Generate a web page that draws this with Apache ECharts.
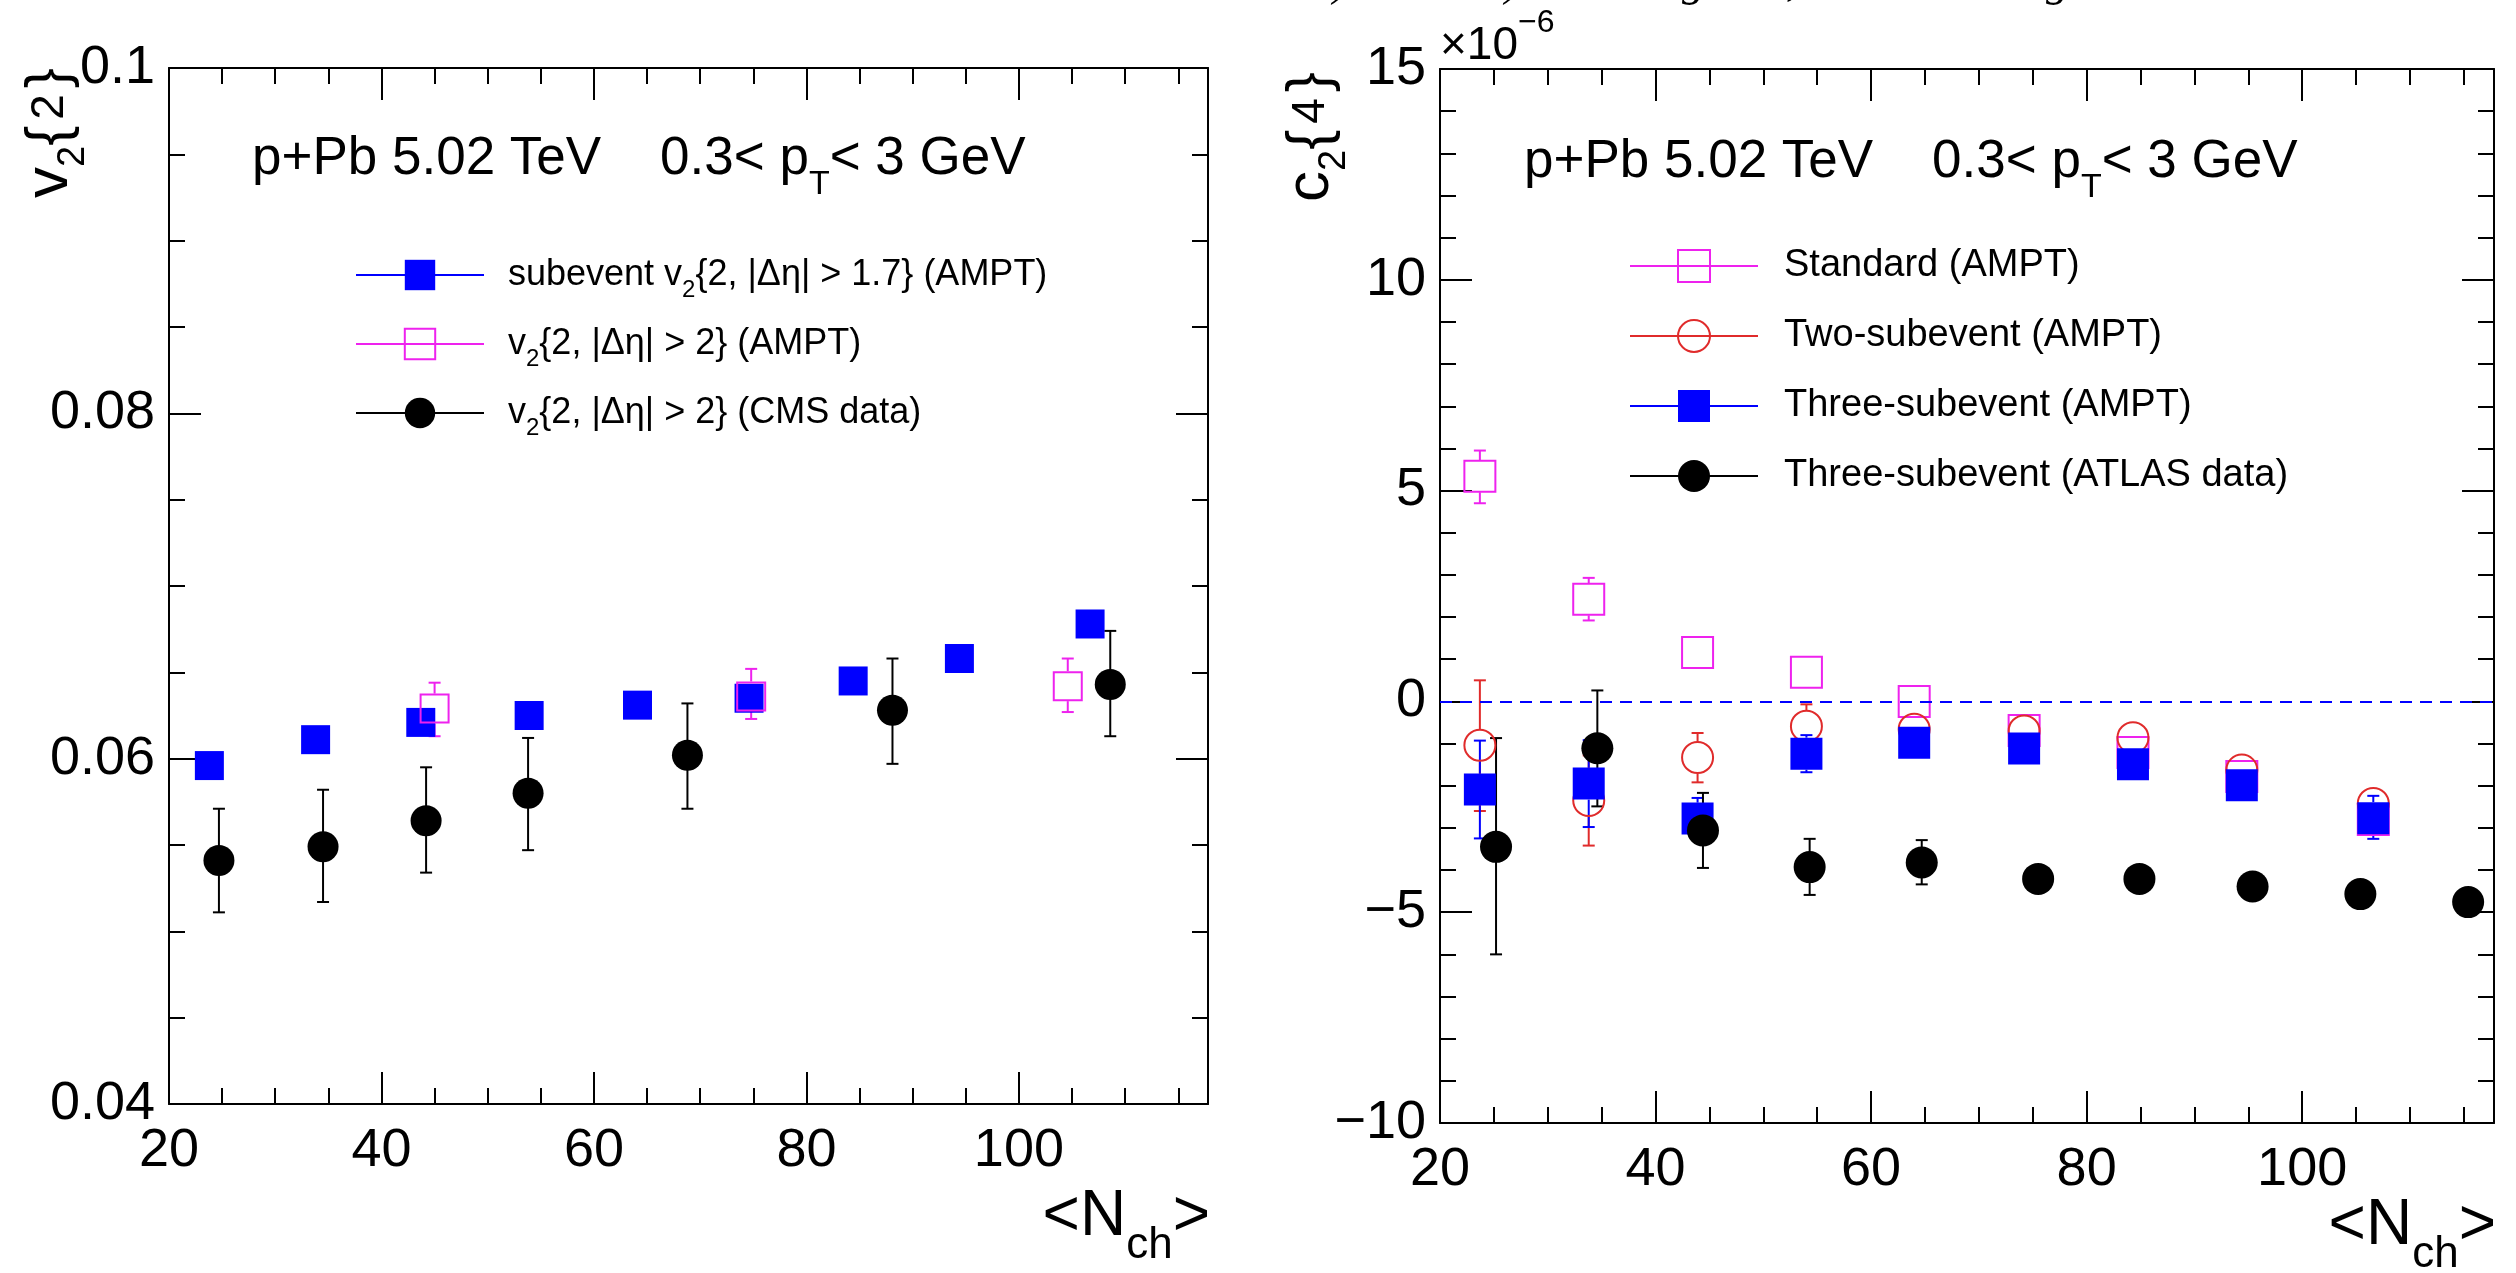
<!DOCTYPE html>
<html><head><meta charset="utf-8">
<script src="https://cdn.jsdelivr.net/npm/echarts@6/dist/echarts.min.js"></script>
<style>html,body{margin:0;padding:0;background:#fff}#c{width:2516px;height:1273px}</style>
</head><body><div id="c"></div>
<script>
// ---------- Left panel: v2{2} vs <Nch> ----------
const leftSubX  = [23.8, 33.8, 43.7, 53.9, 64.1, 74.6, 84.4, 94.4, 106.7];
const leftSubY  = [0.0596, 0.0611, 0.0621, 0.0625, 0.0631, 0.0635, 0.0645, 0.0658, 0.0678];
const leftAmptX  = [45.0, 74.8, 104.6];
const leftAmptY  = [0.0629, 0.0636, 0.0642];
const leftAmptLo = [0.0613, 0.0623, 0.0627];
const leftAmptHi = [0.0644, 0.0652, 0.0658];
const leftCmsX  = [24.7, 34.5, 44.2, 53.8, 68.8, 88.1, 108.6];
const leftCmsY  = [0.0541, 0.0549, 0.0564, 0.0580, 0.0602, 0.0628, 0.0643];
const leftCmsLo = [0.0511, 0.0517, 0.0534, 0.0547, 0.0571, 0.0597, 0.0613];
const leftCmsHi = [0.0571, 0.0582, 0.0595, 0.0612, 0.0632, 0.0658, 0.0674];

// ---------- Right panel: c2{4} (x10^-6) vs <Nch> ----------
const amptX   = [23.7, 33.8, 43.9, 54.0, 64.0, 74.2, 84.3, 94.4, 106.6];
const stdY    = [5.34, 2.42, 1.16, 0.69, 0.00, -0.69, -1.21, -1.78, -2.80];
const stdLo   = [4.70, 1.92, 0.96, 0.49, -0.20, -0.89, -1.41, -1.98, -3.00];
const stdHi   = [5.95, 2.93, 1.36, 0.89, 0.20, -0.49, -1.01, -1.58, -2.60];
const twoY    = [-1.04, -2.35, -1.33, -0.59, -0.66, -0.70, -0.86, -1.63, -2.42];
const twoLo   = [-2.60, -3.42, -1.92, -1.11, -0.86, -0.90, -1.06, -1.83, -2.62];
const twoHi   = [0.50, -1.28, -0.75, -0.07, -0.46, -0.50, -0.66, -1.43, -2.22];
const threeY  = [-2.09, -1.95, -2.78, -1.24, -0.98, -1.12, -1.49, -1.99, -2.77];
const threeLo = [-3.25, -2.98, -3.27, -1.68, -1.20, -1.34, -1.71, -2.21, -3.26];
const threeHi = [-0.93, -0.92, -2.29, -0.80, -0.76, -0.90, -1.27, -1.77, -2.24];
const atlasX  = [25.2, 34.6, 44.4, 54.3, 64.7, 75.5, 84.9, 95.4, 105.4, 115.4];
const atlasY  = [-3.45, -1.11, -3.06, -3.93, -3.82, -4.21, -4.21, -4.39, -4.57, -4.76];
const atlasLo = [-6.00, -2.49, -3.95, -4.59, -4.34, -4.41, -4.41, -4.59, -4.77, -4.96];
const atlasHi = [-0.87, 0.26, -2.17, -3.26, -3.29, -4.01, -4.01, -4.19, -4.37, -4.56];

// axis tick values
const xMin = 20, xMax = 117.8, xMajor = 20, xMinor = 5;
const leftYMin = 0.04, leftYMax = 0.1, leftYMajor = 0.02;
const rightYMin = -10, rightYMax = 15, rightYMajor = 5;

const F = "'Liberation Sans', Arial, Helvetica, sans-serif";
const BLUE = '#0000ff', MAG = '#ee22ee', RED = '#e02b2b', BLACK = '#000000';
const NONE = 'rgba(0,0,0,0)';

const names = {
  lSub: 'subevent v2{2, |Δη| > 1.7} (AMPT)',
  lAmpt: 'v2{2, |Δη| > 2} (AMPT)',
  lCms: 'v2{2, |Δη| > 2} (CMS data)',
  rStd: 'Standard (AMPT)',
  rTwo: 'Two-subevent (AMPT)',
  rThree: 'Three-subevent (AMPT)',
  rAtlas: 'Three-subevent (ATLAS data)'
};

const tickLine = {color: '#000', width: 2};
function xAxesFor(g) {
  const base = {type: 'value', gridIndex: g, min: xMin, max: xMax, splitLine: {show: false}};
  return [
    Object.assign({}, base, {position: 'bottom', interval: xMajor,
      axisLine: {show: true, onZero: false, lineStyle: tickLine},
      axisTick: {inside: true, length: 32, lineStyle: tickLine},
      axisLabel: {fontSize: 54, color: '#000', fontFamily: F, margin: 20, showMaxLabel: false}}),
    Object.assign({}, base, {position: 'bottom', interval: xMinor,
      axisLine: {show: false, onZero: false},
      axisTick: {inside: true, length: 16, lineStyle: tickLine}, axisLabel: {show: false}}),
    Object.assign({}, base, {position: 'top', interval: xMajor,
      axisLine: {show: true, onZero: false, lineStyle: tickLine},
      axisTick: {inside: true, length: 32, lineStyle: tickLine}, axisLabel: {show: false}}),
    Object.assign({}, base, {position: 'top', interval: xMinor,
      axisLine: {show: false, onZero: false},
      axisTick: {inside: true, length: 16, lineStyle: tickLine}, axisLabel: {show: false}})
  ];
}
function yAxesFor(g, min, max, interval, minorSplit, fmt) {
  const base = {type: 'value', gridIndex: g, min: min, max: max, interval: interval, splitLine: {show: false},
    axisLine: {show: true, onZero: false, lineStyle: tickLine},
    axisTick: {inside: true, length: 32, lineStyle: tickLine},
    minorTick: {show: true, splitNumber: minorSplit, length: 16, lineStyle: tickLine},
    minorSplitLine: {show: false}};
  return [
    Object.assign({}, base, {position: 'left',
      axisLabel: {fontSize: 54, color: '#000', fontFamily: F, margin: 14, formatter: fmt}}),
    Object.assign({}, base, {position: 'right', axisLabel: {show: false}})
  ];
}

function errSeries(xs, ys, lo, hi, color, xi, yi, r) {
  return {
    type: 'custom', xAxisIndex: xi, yAxisIndex: yi, silent: true, animation: false,
    data: xs.map((x, i) => [x, ys[i], lo[i], hi[i]]),
    encode: {x: 0, y: 1},
    renderItem: function (params, api) {
      const x = api.value(0);
      const c = api.coord([x, api.value(1)]);
      const b = api.coord([x, api.value(2)]);
      const t = api.coord([x, api.value(3)]);
      const st = {stroke: color, lineWidth: 2};
      const cap = 6;
      const ch = [];
      if (c[1] - t[1] > r) {
        ch.push({type: 'line', shape: {x1: c[0], y1: c[1] - r, x2: c[0], y2: t[1]}, style: st});
        ch.push({type: 'line', shape: {x1: c[0] - cap, y1: t[1], x2: c[0] + cap, y2: t[1]}, style: st});
      }
      if (b[1] - c[1] > r) {
        ch.push({type: 'line', shape: {x1: c[0], y1: c[1] + r, x2: c[0], y2: b[1]}, style: st});
        ch.push({type: 'line', shape: {x1: c[0] - cap, y1: b[1], x2: c[0] + cap, y2: b[1]}, style: st});
      }
      return {type: 'group', children: ch};
    }
  };
}
function markSeries(name, xs, ys, symbol, size, fill, stroke, bw, xi, yi) {
  return {
    type: 'line', name: name, xAxisIndex: xi, yAxisIndex: yi, silent: true, animation: false,
    data: xs.map((x, i) => [x, ys[i]]),
    symbol: symbol, symbolSize: size, showSymbol: true, showAllSymbol: true,
    itemStyle: {color: fill, borderColor: stroke, borderWidth: bw, opacity: 1},
    lineStyle: {color: stroke, width: 0, opacity: 0},
    emphasis: {disabled: true}
  };
}
function legendItem(name, fill, stroke, bw) {
  return {name: name, itemStyle: {color: fill, borderColor: stroke, borderWidth: bw, opacity: 1},
          lineStyle: {color: stroke, width: 2, opacity: 1, type: 'solid'}};
}

const stdSeries = markSeries(names.rStd, amptX, stdY, 'rect', 31, NONE, MAG, 2, 4, 2);
stdSeries.markLine = {
  silent: true, symbol: ['none', 'none'], label: {show: false}, animation: false,
  lineStyle: {color: BLUE, width: 2, type: [12, 8]},
  data: [{yAxis: 0}]
};

const legendRich = {
  s: {fontSize: 24, fontFamily: F, color: '#000', lineHeight: 4, verticalAlign: 'top', padding: [21, 0, 0, 0]}
};

const option = {
  animation: false,
  backgroundColor: '#fff',
  grid: [
    {left: 169, top: 68, width: 1039, height: 1036, outerBoundsMode: 'none', containLabel: false},
    {left: 1440, top: 69, width: 1054, height: 1054, outerBoundsMode: 'none', containLabel: false}
  ],
  xAxis: xAxesFor(0).concat(xAxesFor(1)),
  yAxis: yAxesFor(0, leftYMin, leftYMax, leftYMajor, 4, v => String(+v.toFixed(3)))
    .concat(yAxesFor(1, rightYMin, rightYMax, rightYMajor, 5, v => (v < 0 ? '\u2212' + Math.abs(v) : String(v)))),
  legend: [
    {
      left: 350, top: 252, orient: 'vertical', itemWidth: 128, itemHeight: 38, itemGap: 24,
      selectedMode: false,
      textStyle: {fontSize: 36, fontFamily: F, color: '#000', padding: [0, 0, 0, 19], rich: legendRich},
      formatter: n => n.replace('v2{', 'v{s|2}{'),
      data: [legendItem(names.lSub, BLUE, BLUE, 0), legendItem(names.lAmpt, NONE, MAG, 2), legendItem(names.lCms, BLACK, BLACK, 0)]
    },
    {
      left: 1624, top: 242, orient: 'vertical', itemWidth: 128, itemHeight: 40, itemGap: 32,
      selectedMode: false,
      textStyle: {fontSize: 38, fontFamily: F, color: '#000', padding: [0, 0, 0, 21]},
      data: [legendItem(names.rStd, NONE, MAG, 2), legendItem(names.rTwo, NONE, RED, 2),
             legendItem(names.rThree, BLUE, BLUE, 0), legendItem(names.rAtlas, BLACK, BLACK, 0)]
    }
  ],
  series: [
    // left panel
    markSeries(names.lSub, leftSubX, leftSubY, 'rect', 29, BLUE, BLUE, 0, 0, 0),
    errSeries(leftAmptX, leftAmptY, leftAmptLo, leftAmptHi, MAG, 0, 0, 15),
    markSeries(names.lAmpt, leftAmptX, leftAmptY, 'rect', 28, NONE, MAG, 2, 0, 0),
    errSeries(leftCmsX, leftCmsY, leftCmsLo, leftCmsHi, BLACK, 0, 0, 14),
    markSeries(names.lCms, leftCmsX, leftCmsY, 'circle', 31, BLACK, BLACK, 0, 0, 0),
    // right panel
    errSeries(amptX, stdY, stdLo, stdHi, MAG, 4, 2, 16),
    stdSeries,
    errSeries(amptX, twoY, twoLo, twoHi, RED, 4, 2, 16),
    markSeries(names.rTwo, amptX, twoY, 'circle', 31, NONE, RED, 2, 4, 2),
    errSeries(amptX, threeY, threeLo, threeHi, BLUE, 4, 2, 16),
    markSeries(names.rThree, amptX, threeY, 'rect', 32, BLUE, BLUE, 0, 4, 2),
    errSeries(atlasX, atlasY, atlasLo, atlasHi, BLACK, 4, 2, 15),
    markSeries(names.rAtlas, atlasX, atlasY, 'circle', 32, BLACK, BLACK, 0, 4, 2)
  ],
  graphic: []
};

// Texts
const titleRich = {
  m: {fontSize: 53, fontFamily: F, color: '#000', lineHeight: 56},
  s: {fontSize: 34, fontFamily: F, color: '#000', lineHeight: 4, verticalAlign: 'top', padding: [37, 0, 0, 0]}
};
const yTitleRich = {
  v: {fontSize: 62, fontFamily: F, color: '#000', lineHeight: 62},
  s: {fontSize: 38, fontFamily: F, color: '#000', lineHeight: 4, verticalAlign: 'top', padding: [36, 0, 0, 0]},
  d: {fontSize: 46, fontFamily: F, color: '#000', padding: [0, 6, 0, 6]}
};
const xTitleRich = {
  m: {fontSize: 64, fontFamily: F, color: '#000', lineHeight: 66},
  s: {fontSize: 44, fontFamily: F, color: '#000', lineHeight: 4, verticalAlign: 'top', padding: [40, 0, 0, 0]}
};
function txt(x, y, text, rich, extra) {
  return Object.assign({type: 'text', x: x, y: y, silent: true,
    style: {text: text, rich: rich, fontSize: 56, fontFamily: F, fill: '#000', align: 'left', verticalAlign: 'middle'}}, extra || {});
}
const g = option.graphic;
const titleText = '{m|p+Pb 5.02 TeV    0.3< p}{s|T}{m|< 3 GeV}';
g.push(txt(252, 159, titleText, titleRich));
g.push(txt(1524, 162, titleText, titleRich));
// y-axis titles (rotated)
const yl = txt(50, 133, '{v|v}{s|2}{{d|2}}', yTitleRich, {rotation: Math.PI / 2});
yl.style.align = 'center'; yl.style.fontSize = 60; g.push(yl);
const yr = txt(1311, 137, '{v|c}{s|2}{{d|4}}', yTitleRich, {rotation: Math.PI / 2});
yr.style.align = 'center'; yr.style.fontSize = 60; g.push(yr);
// exponent
g.push(txt(1440, 38, '{m|\u00d710}{e|\u22126}', {
  m: {fontSize: 46, fontFamily: F, color: '#000', lineHeight: 62, verticalAlign: 'bottom'},
  e: {fontSize: 32, fontFamily: F, color: '#000', lineHeight: 10, verticalAlign: 'top'}
}));
// x-axis titles
const xl = txt(1210, 1217, '{m|<N}{s|ch}{m|>}', xTitleRich); xl.style.align = 'right'; g.push(xl);
const xr = txt(2496, 1226, '{m|<N}{s|ch}{m|>}', xTitleRich); xr.style.align = 'right'; g.push(xr);
// cut-off caption glyphs at the very top
const topGlyphs = [[')', 1333], [')', 1505], ['g', 1682], [',', 1786], ['g', 2046]];
topGlyphs.forEach(p => g.push({type: 'text', x: p[1], y: -17, silent: true,
  style: {text: p[0], fontSize: 46, fontFamily: "'Liberation Serif', serif", fontStyle: 'italic', fill: '#000', verticalAlign: 'middle'}}));

const chart = echarts.init(document.getElementById('c'), null, {renderer: 'canvas'});
chart.setOption(option);
</script>
</body></html>
